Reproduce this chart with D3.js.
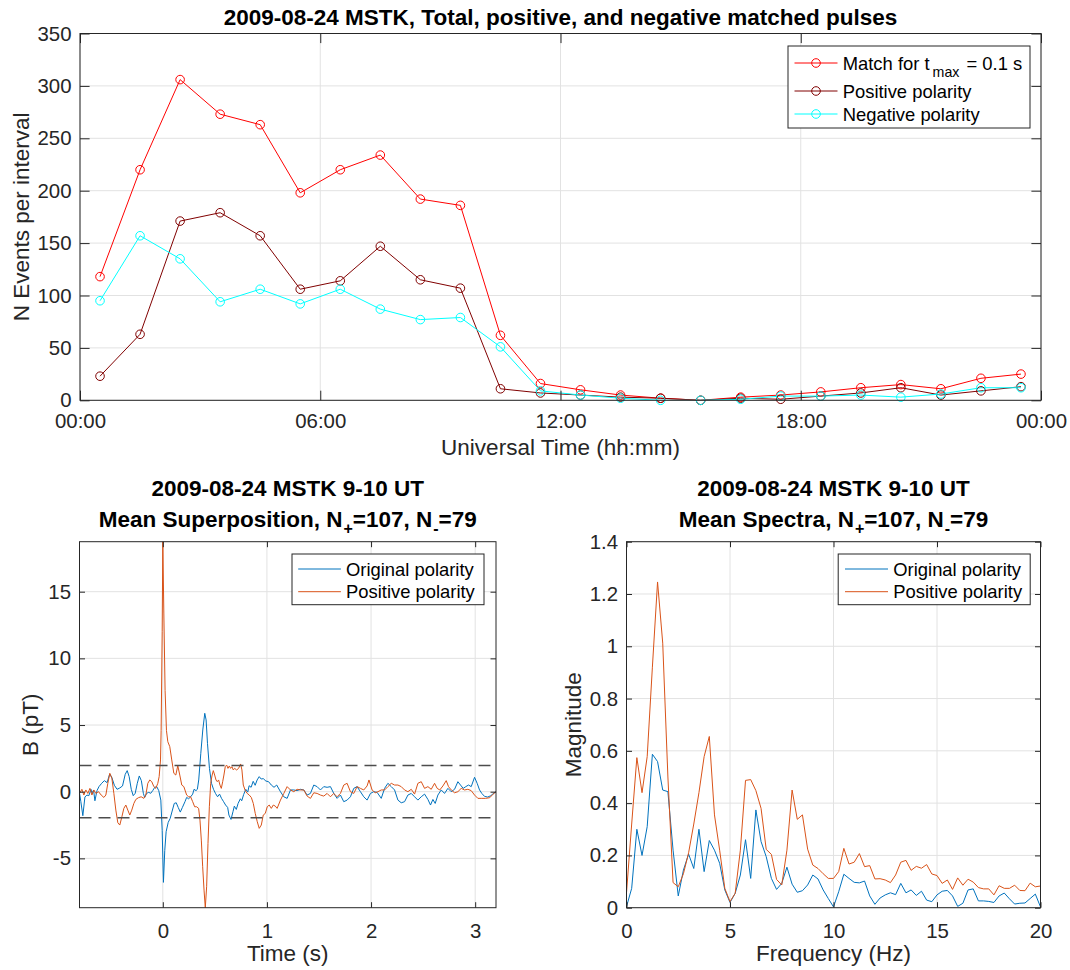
<!DOCTYPE html>
<html><head><meta charset="utf-8">
<script src="https://cdn.jsdelivr.net/npm/d3@7"></script>
<style>
body{margin:0;background:#fff}
svg{display:block}
text{font-family:"Liberation Sans",Arial,Helvetica,sans-serif}
</style>
</head><body>
<svg id="c" width="1070" height="970"></svg>
<script>
// ---------------- DATA ----------------
// Top panel: hourly intervals (centre of each hour, UT)
const hours = [0.5,1.5,2.5,3.5,4.5,5.5,6.5,7.5,8.5,9.5,10.5,11.5,12.5,13.5,14.5,15.5,16.5,17.5,18.5,19.5,20.5,21.5,22.5,23.5];
const totalMatch    = [118,220,306,273,263,198,220,234,192,186,62,16,10,5,2,0,3,5,8,12,15,11,21,25];
const positiveCount = [23,63,171,179,157,106,114,147,115,107,11,7,5,3,2,0,2,1,4,7,12,5,9,13];
const negativeCount = [95,157,135,94,106,92,106,87,77,79,51,9,5,2,0,0,1,4,4,5,3,6,12,12];
const hourTicks = [0,6,12,18,24];
const hourTickLabels = ["00:00","06:00","12:00","18:00","00:00"];
const countTicks = [0,50,100,150,200,250,300,350];

// Bottom-left: mean superposition (time in s, B in pT)
const tOriginal = [-0.8,-0.787,-0.768,-0.748,-0.729,-0.71,-0.69,-0.68,-0.665,-0.652,-0.632,-0.613,-0.587,-0.561,-0.535,-0.51,-0.49,-0.465,-0.439,-0.413,-0.387,-0.361,-0.342,-0.323,-0.303,-0.284,-0.265,-0.245,-0.226,-0.206,-0.187,-0.174,-0.155,-0.135,-0.116,-0.097,-0.077,-0.058,-0.039,-0.019,-0.006,0.006,0.019,0.032,0.052,0.071,0.09,0.11,0.129,0.148,0.168,0.187,0.213,0.229,0.248,0.268,0.287,0.3,0.319,0.332,0.345,0.365,0.384,0.403,0.416,0.429,0.448,0.468,0.487,0.506,0.526,0.545,0.564,0.584,0.603,0.623,0.635,0.655,0.674,0.687,0.706,0.723,0.745,0.758,0.777,0.797,0.816,0.829,0.848,0.868,0.887,0.906,0.926,0.945,0.965,0.99,1.016,1.042,1.068,1.094,1.13,1.162,1.194,1.226,1.258,1.29,1.322,1.354,1.386,1.418,1.45,1.482,1.514,1.546,1.578,1.61,1.642,1.674,1.706,1.738,1.77,1.802,1.834,1.866,1.898,1.93,1.962,1.994,2.026,2.058,2.098,2.13,2.162,2.194,2.226,2.258,2.29,2.322,2.354,2.386,2.418,2.45,2.482,2.514,2.546,2.571,2.594,2.616,2.642,2.674,2.706,2.738,2.77,2.802,2.834,2.859,2.885,2.91,2.936,2.962,2.994,3.019,3.042,3.064,3.09,3.12,3.15,3.18,3.2];
const bOriginal = [-0.1,-0.75,-1.8,-0.4,-0.25,-0.3,0.18,-0.1,0.12,-0.68,0.08,0.38,0.63,0.83,0.68,1.33,1.08,0.48,0.18,0.28,0.43,1.3,1.58,1.13,0.18,-0.3,-0.12,0.63,1.18,0.83,-0.12,-0.43,-0.12,-0.05,-0.12,0.08,0.33,0.38,0.08,-0.63,-2.9,-6.8,-4.4,-3.0,-2.3,-2.0,-1.45,-0.88,-0.83,-1.18,-1.53,-1.2,-0.75,-0.43,-0.53,-0.38,-0.18,0.18,0.08,0.18,0.88,2.88,4.63,5.88,5.38,3.63,1.75,0.63,0.18,-0.13,-0.38,-0.18,-0.5,-0.75,-1.0,-1.18,-1.75,-2.08,-1.5,-1.08,-1.33,-0.88,-0.53,-0.68,-0.2,0.18,-0.03,0.45,0.33,0.78,0.48,0.88,1.13,0.95,0.98,0.8,0.75,0.5,0.33,0.5,0,-0.38,-0.5,0.13,0.13,0.08,0.18,0.13,-0.25,-0.13,0.5,0.38,0.13,0.38,0.33,0.38,-0.13,-0.5,-0.25,-0.75,-0.63,-0.38,0.25,0.38,0,-0.38,-0.63,-0.13,0,-0.05,-0.5,0.25,0.63,0.38,0.13,-0.63,-0.83,-0.75,-0.25,-0.13,-0.38,-0.63,-0.38,-0.18,-0.58,-1.0,-0.58,-0.88,-0.25,0.13,-0.13,0.25,0,0.18,0.75,0.5,0.25,0.38,0.5,0.38,1.08,0.63,0.13,-0.13,-0.35,-0.4,-0.3,-0.1,0.0];
const tPositive = [-0.8,-0.777,-0.758,-0.739,-0.72,-0.7,-0.681,-0.662,-0.643,-0.617,-0.592,-0.566,-0.547,-0.528,-0.509,-0.489,-0.47,-0.451,-0.432,-0.413,-0.393,-0.374,-0.355,-0.336,-0.317,-0.298,-0.278,-0.259,-0.234,-0.208,-0.182,-0.163,-0.144,-0.125,-0.106,-0.086,-0.067,-0.048,-0.035,-0.022,-0.016,-0.006,0.0,0.01,0.022,0.035,0.048,0.067,0.086,0.106,0.125,0.144,0.163,0.182,0.202,0.229,0.248,0.267,0.287,0.306,0.325,0.344,0.357,0.37,0.383,0.396,0.408,0.421,0.434,0.447,0.46,0.472,0.485,0.498,0.511,0.523,0.536,0.549,0.562,0.575,0.587,0.6,0.613,0.626,0.639,0.651,0.664,0.677,0.69,0.709,0.728,0.747,0.76,0.773,0.792,0.811,0.83,0.85,0.869,0.888,0.907,0.926,0.946,0.965,0.984,1.003,1.022,1.042,1.061,1.08,1.098,1.13,1.162,1.194,1.226,1.258,1.29,1.322,1.354,1.386,1.418,1.45,1.482,1.514,1.546,1.578,1.61,1.642,1.674,1.706,1.738,1.77,1.802,1.834,1.866,1.898,1.93,1.962,1.98,2.01,2.04,2.066,2.098,2.13,2.162,2.194,2.226,2.258,2.29,2.322,2.354,2.386,2.418,2.45,2.482,2.514,2.546,2.578,2.61,2.635,2.66,2.69,2.722,2.744,2.77,2.802,2.834,2.866,2.898,2.93,2.962,2.994,3.026,3.064,3.1,3.14,3.17,3.2];
const bPositive = [-0.13,0.18,-0.25,0.13,-0.13,0.25,-0.25,0.13,-0.13,0,-0.25,-0.43,-0.25,0.63,1.38,1.0,-0.13,-1.38,-2.33,-2.5,-1.88,-1.25,-1.0,-1.38,-1.75,-1.38,-0.88,-0.58,-0.45,-0.38,-0.5,-0.25,0.63,0.88,0.75,0.38,0.25,0.63,1.13,2.38,4.6,12,18.75,13.4,7.6,4.6,3.75,3.38,2.38,1.38,1.25,1.95,1.25,0.5,0.38,-0.25,-0.38,-0.38,-0.75,-1.13,-1.13,-1.25,-2.13,-3.63,-5.63,-7.38,-8.7,-7.13,-3.88,-1.13,0.63,1.18,1.58,1.25,0.88,0.75,0.88,0.5,0.25,0.75,1.25,1.88,2.0,1.75,1.93,1.75,1.88,1.63,1.75,1.63,1.75,2.08,1.63,0.5,0.08,-0.13,-0.25,-0.43,-0.88,-1.63,-2.25,-2.75,-2.5,-1.75,-1.63,-1.13,-1.0,-1.25,-1.0,-1.08,-1.25,-0.63,-0.13,0.38,0.13,0,0.18,0.13,0.13,-0.33,-0.5,-0.08,-0.13,-0.25,-0.33,-0.13,-0.38,-0.13,-0.38,-0.13,0.5,0.63,0,-0.13,0.38,0.25,0.13,0.43,0.88,0.13,-0.08,0,0.13,0.13,0.38,0.63,0.5,0.5,0.38,0.13,0,0.18,-0.18,0.63,0.75,0.25,0.38,0.18,0.63,0.25,0.13,0.43,0.83,0.38,0.13,-0.08,0,0.25,0.13,0.18,0.08,-0.25,-0.5,-0.5,-0.5,-0.45,-0.2,0.0];
const confidenceLevels = [1.96,-1.96];
const timeTicks = [0,1,2,3];
const bTicks = [-5,0,5,10,15];

// Bottom-right: mean spectra
const freqHz = [0,0.25,0.5,0.75,1,1.25,1.5,1.75,2,2.25,2.5,2.75,3,3.25,3.5,3.75,4,4.25,4.5,4.75,5,5.25,5.5,5.75,6,6.25,6.5,6.75,7,7.25,7.5,7.75,8,8.25,8.5,8.75,9,9.25,9.5,9.75,10,10.25,10.5,10.75,11,11.25,11.5,11.75,12,12.25,12.5,12.75,13,13.25,13.5,13.75,14,14.25,14.5,14.75,15,15.25,15.5,15.75,16,16.25,16.5,16.75,17,17.25,17.5,17.75,18,18.25,18.5,18.75,19,19.25,19.5,19.75,20];
const magOriginal = [0.004,0.074,0.30,0.20,0.31,0.587,0.559,0.45,0.444,0.22,0.045,0.144,0.205,0.15,0.30,0.138,0.257,0.22,0.17,0.068,0.02,0.055,0.125,0.26,0.112,0.374,0.253,0.195,0.112,0.07,0.093,0.155,0.09,0.059,0.065,0.087,0.125,0.11,0.068,0.035,0.003,0.061,0.128,0.112,0.097,0.095,0.102,0.045,0.013,0.037,0.049,0.057,0.05,0.093,0.057,0.068,0.047,0.063,0.029,0.023,0.049,0.063,0.066,0.045,0.005,0.017,0.068,0.072,0.026,0.026,0.024,0.02,0.045,0.056,0.034,0.014,0.017,0.018,0.035,0.052,0.003];
const magPositive = [0.057,0.32,0.574,0.44,0.578,0.92,1.246,1.012,0.50,0.096,0.08,0.13,0.21,0.32,0.44,0.578,0.655,0.355,0.22,0.074,0.023,0.055,0.22,0.487,0.49,0.448,0.38,0.223,0.204,0.108,0.087,0.22,0.45,0.338,0.355,0.224,0.163,0.15,0.13,0.112,0.112,0.138,0.227,0.167,0.174,0.207,0.157,0.161,0.11,0.111,0.106,0.096,0.125,0.174,0.181,0.143,0.158,0.151,0.165,0.129,0.123,0.093,0.106,0.07,0.114,0.086,0.109,0.098,0.077,0.072,0.072,0.049,0.084,0.074,0.074,0.086,0.066,0.065,0.094,0.08,0.083];
const freqTicks = [0,5,10,15,20];
const magTicks = [0,0.2,0.4,0.6,0.8,1,1.2,1.4];

// ---------------- STYLE ----------------
const FONT = '"Liberation Sans",Arial,Helvetica,sans-serif';
const TICK_FS = 20.4, LABEL_FS = 22.5, LEG_FS = 18.4;
const AXC = "#262626", GRID = "#e2e2e2";
const C_RED = "#ff0000", C_DARK = "#800000", C_CYAN = "#00ffff";
const C_BLUE = "#0072bd", C_ORANGE = "#d95319";

const svg = d3.select("#c");
const defs = svg.append("defs");

function panel(xs, ys, o) {
  const [x0, x1] = xs.range(), [y0, y1] = ys.range();
  const g = svg.append("g");
  defs.append("clipPath").attr("id", o.id).append("rect")
    .attr("x", x0).attr("y", y1).attr("width", x1 - x0).attr("height", y0 - y1);
  const grid = g.append("g");
  grid.selectAll("line.gx").data(o.xGrid).join("line")
    .attr("x1", d => xs(d)).attr("x2", d => xs(d)).attr("y1", y1).attr("y2", y0)
    .attr("stroke", GRID).attr("stroke-width", 1);
  grid.selectAll("line.gy").data(o.yGrid).join("line")
    .attr("y1", d => ys(d)).attr("y2", d => ys(d)).attr("x1", x0).attr("x2", x1)
    .attr("stroke", GRID).attr("stroke-width", 1);
  const plot = g.append("g").attr("clip-path", `url(#${o.id})`);
  const axes = () => {
    const style = s => {
      s.select(".domain").remove();
      s.attr("font-family", FONT).attr("font-size", TICK_FS);
      s.selectAll("line").attr("stroke", AXC);
      s.selectAll("text").attr("fill", AXC);
    };
    const L = o.tl;
    g.append("g").attr("transform", `translate(0,${y0})`)
      .call(d3.axisBottom(xs).tickValues(o.xTicks).tickFormat((d, i) => o.xFmt(d, i)).tickSize(-L).tickPadding(o.xPad)).call(style);
    g.append("g").attr("transform", `translate(0,${y1})`)
      .call(d3.axisTop(xs).tickValues(o.xTicks).tickFormat("").tickSize(-L)).call(style);
    g.append("g").attr("transform", `translate(${x0},0)`)
      .call(d3.axisLeft(ys).tickValues(o.yTicks).tickFormat(o.yFmt).tickSize(-L).tickPadding(8.5)).call(style);
    g.append("g").attr("transform", `translate(${x1},0)`)
      .call(d3.axisRight(ys).tickValues(o.yTicks).tickFormat("").tickSize(-L)).call(style);
    g.append("rect").attr("x", x0).attr("y", y1).attr("width", x1 - x0).attr("height", y0 - y1)
      .attr("fill", "none").attr("stroke", AXC).attr("stroke-width", 1);
  };
  return {g, plot, axes};
}

function label(x, y, txt, opts = {}) {
  const t = svg.append("text").attr("x", 0).attr("y", 0)
    .attr("transform", `translate(${x},${y})` + (opts.rot ? " rotate(-90)" : ""))
    .attr("text-anchor", "middle").attr("font-size", opts.fs || LABEL_FS)
    .attr("font-weight", opts.bold ? "bold" : "normal")
    .attr("fill", opts.fill || AXC);
  if (typeof txt === "string") t.text(txt);
  else txt.forEach(p => {
    const s = t.append("tspan").text(p.t);
    if (p.sub) s.attr("font-size", p.fs || 16).attr("dy", p.dy).attr("dx", p.dx || 0);
    else if (p.dy) s.attr("dy", p.dy).attr("dx", p.dx || 0);
  });
  return t;
}

function legend(x, y, w, h, rows) {
  const g = svg.append("g");
  g.append("rect").attr("x", x).attr("y", y).attr("width", w).attr("height", h)
    .attr("fill", "#fff").attr("stroke", AXC).attr("stroke-width", 1);
  rows.forEach(r => {
    g.append("line").attr("x1", r.lx0).attr("x2", r.lx1).attr("y1", r.y).attr("y2", r.y)
      .attr("stroke", r.color).attr("stroke-width", 1);
    if (r.marker) g.append("circle").attr("cx", (r.lx0 + r.lx1) / 2).attr("cy", r.y).attr("r", 4.3)
      .attr("fill", "none").attr("stroke", r.color).attr("stroke-width", 1);
    const t = g.append("text").attr("x", r.tx).attr("y", r.y + 6.6).attr("font-size", LEG_FS).attr("fill", "#000");
    r.parts.forEach(p => {
      const s = t.append("tspan").text(p.t);
      if (p.fs) s.attr("font-size", p.fs);
      if (p.dy) s.attr("dy", p.dy);
      if (p.dx) s.attr("dx", p.dx);
    });
  });
}

// ---------------- TOP PANEL ----------------
const xTop = d3.scaleLinear().domain([0, 24]).range([80, 1041]);
const yTop = d3.scaleLinear().domain([0, 350]).range([400.3, 33.5]);
const topPanel = panel(xTop, yTop, {id: "clipTop", xGrid: hourTicks, yGrid: countTicks, xTicks: hourTicks, yTicks: countTicks,
  xFmt: (d, i) => hourTickLabels[i], yFmt: d3.format("d"), tl: 9.6, xPad: 13.7});
const topSeries = [
  {vals: totalMatch, color: C_RED},
  {vals: positiveCount, color: C_DARK},
  {vals: negativeCount, color: C_CYAN}
];
topSeries.forEach(s => {
  const pts = hours.map((h, i) => [h, s.vals[i]]);
  topPanel.plot.append("path").datum(pts)
    .attr("d", d3.line().x(d => xTop(d[0])).y(d => yTop(d[1])))
    .attr("fill", "none").attr("stroke", s.color).attr("stroke-width", 1);
  topPanel.g.append("g").selectAll("circle").data(pts).join("circle")
    .attr("cx", d => xTop(d[0])).attr("cy", d => yTop(d[1])).attr("r", 4.3)
    .attr("fill", "none").attr("stroke", s.color).attr("stroke-width", 1);
});
topPanel.axes();
label(560.5, 25, "2009-08-24 MSTK, Total, positive, and negative matched pulses", {bold: true, fill: "#000"});
label(560.5, 455, "Universal Time (hh:mm)");
label(29, 216.9, "N Events per interval", {rot: true});
legend(788, 46, 242, 82, [
  {y: 63, lx0: 794.5, lx1: 837.5, tx: 842.7, color: C_RED, marker: true,
   parts: [{t: "Match for t"}, {t: "max", fs: 14.2, dy: 7, dx: 3}, {t: " = 0.1 s", dy: -7, dx: 2}]},
  {y: 91, lx0: 794.5, lx1: 837.5, tx: 842.7, color: C_DARK, marker: true, parts: [{t: "Positive polarity"}]},
  {y: 114, lx0: 794.5, lx1: 837.5, tx: 842.7, color: C_CYAN, marker: true, parts: [{t: "Negative polarity"}]}
]);

// ---------------- BOTTOM-LEFT ----------------
const xBL = d3.scaleLinear().domain([-0.8, 3.2]).range([79.5, 496]);
const yBL = d3.scaleLinear().domain([-8.7, 18.75]).range([907.7, 541.7]);
const bl = panel(xBL, yBL, {id: "clipBL", xGrid: timeTicks, yGrid: bTicks, xTicks: timeTicks, yTicks: bTicks,
  xFmt: d => String(d), yFmt: d => String(d), tl: 5.5, xPad: 15.6});
const lineBL = d3.line().x(d => xBL(d[0])).y(d => yBL(d[1]));
bl.plot.append("path").datum(tOriginal.map((t, i) => [t, bOriginal[i]])).attr("d", lineBL)
  .attr("fill", "none").attr("stroke", C_BLUE).attr("stroke-width", 1);
bl.plot.append("path").datum(tPositive.map((t, i) => [t, bPositive[i]])).attr("d", lineBL)
  .attr("fill", "none").attr("stroke", C_ORANGE).attr("stroke-width", 1);
bl.plot.selectAll("line.conf").data(confidenceLevels).join("line")
  .attr("x1", xBL.range()[0]).attr("x2", xBL.range()[1]).attr("y1", d => yBL(d)).attr("y2", d => yBL(d))
  .attr("stroke", "#4d4d4d").attr("stroke-width", 1.5).attr("stroke-dasharray", "12,7");
bl.axes();
label(287.75, 496, "2009-08-24 MSTK 9-10 UT", {bold: true, fill: "#000"});
label(287.75, 527, [{t: "Mean Superposition, N"}, {t: "+", sub: true, dy: 7, dx: 1}, {t: "=107, N", dy: -7}, {t: "-", sub: true, dy: 7, dx: 1}, {t: "=79", dy: -7}], {bold: true, fill: "#000"});
label(287.75, 961, "Time (s)");
label(38, 724.7, "B (pT)", {rot: true});
legend(292, 554, 192, 50.7, [
  {y: 569, lx0: 298.2, lx1: 340.9, tx: 346, color: C_BLUE, parts: [{t: "Original polarity"}]},
  {y: 591.7, lx0: 298.2, lx1: 340.9, tx: 346, color: C_ORANGE, parts: [{t: "Positive polarity"}]}
]);

// ---------------- BOTTOM-RIGHT ----------------
const xBR = d3.scaleLinear().domain([0, 20]).range([626.5, 1040.5]);
const yBR = d3.scaleLinear().domain([0, 1.4]).range([907.7, 541.7]);
const br = panel(xBR, yBR, {id: "clipBR", xGrid: freqTicks, yGrid: magTicks, xTicks: freqTicks, yTicks: magTicks,
  xFmt: d => String(d), yFmt: d => String(d), tl: 5.5, xPad: 15.6});
const lineBR = d3.line().x(d => xBR(d[0])).y(d => yBR(d[1]));
br.plot.append("path").datum(freqHz.map((f, i) => [f, magOriginal[i]])).attr("d", lineBR)
  .attr("fill", "none").attr("stroke", C_BLUE).attr("stroke-width", 1);
br.plot.append("path").datum(freqHz.map((f, i) => [f, magPositive[i]])).attr("d", lineBR)
  .attr("fill", "none").attr("stroke", C_ORANGE).attr("stroke-width", 1);
br.axes();
label(833.5, 496, "2009-08-24 MSTK 9-10 UT", {bold: true, fill: "#000"});
label(833.5, 527, [{t: "Mean Spectra, N"}, {t: "+", sub: true, dy: 7, dx: 1}, {t: "=107, N", dy: -7}, {t: "-", sub: true, dy: 7, dx: 1}, {t: "=79", dy: -7}], {bold: true, fill: "#000"});
label(833.5, 961, "Frequency (Hz)");
label(580.5, 724.7, "Magnitude", {rot: true});
legend(838.2, 554, 192, 50.7, [
  {y: 569, lx0: 845, lx1: 888, tx: 893.3, color: C_BLUE, parts: [{t: "Original polarity"}]},
  {y: 591.7, lx0: 845, lx1: 888, tx: 893.3, color: C_ORANGE, parts: [{t: "Positive polarity"}]}
]);
</script>
</body></html>
